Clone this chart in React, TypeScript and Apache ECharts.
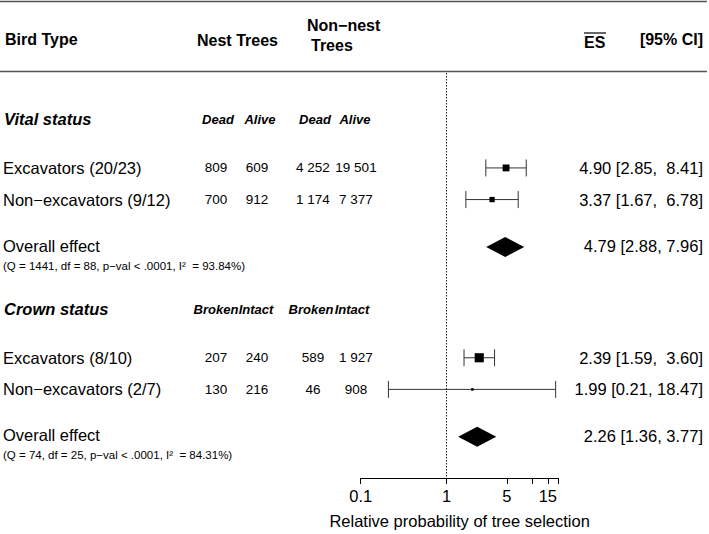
import { useEffect, useRef } from "react";
import * as echarts from "echarts";

// ---------- data ----------
const groupTitles = ["Vital status", "Crown status"];
const groupSubHeaders = [
  ["Dead", "Alive", "Dead", "Alive"],
  ["Broken", "Intact", "Broken", "Intact"],
];
const studyLabels = [
  "Excavators (20/23)",
  "Non\u2212excavators (9/12)",
  "Excavators (8/10)",
  "Non\u2212excavators (2/7)",
];
const nestTreesA = [809, 700, 207, 130];
const nestTreesB = [609, 912, 240, 216];
const nonNestTreesA = [4252, 1174, 589, 46];
const nonNestTreesB = [19501, 7377, 1927, 908];
const studyES = [4.9, 3.37, 2.39, 1.99];
const studyLower = [2.85, 1.67, 1.59, 0.21];
const studyUpper = [8.41, 6.78, 3.6, 18.47];
const overallLabel = "Overall effect";
const overallES = [4.79, 2.26];
const overallLower = [2.88, 1.36];
const overallUpper = [7.96, 3.77];
const hetQ = [1441, 74];
const hetDf = [88, 25];
const hetP = [".0001", ".0001"];
const hetI2 = [93.84, 84.31];
const axisTickValues = [0.1, 1, 5, 10, 15, 20];
const axisLabelValues = [0.1, 1, 5, 15];
const axisTitle = "Relative probability of tree selection";
const headerBirdType = "Bird Type";
const headerNest = "Nest Trees";
const headerNonNest = ["Non\u2212nest", "Trees"];
const headerES = "ES";
const headerCI = "[95% CI]";

// ---------- layout (row slots) ----------
const groupRow = [-3, 9];
const studyRow = [0, 2, 12, 14];
const overallRow = [5, 17];

const FONT = '"Liberation Sans", Arial, Helvetica, sans-serif';
const log10 = (v: number) => Math.log10(v);
const fmt2 = (v: number) => v.toFixed(2);
const fmtCount = (n: number) => String(n).replace(/\B(?=(\d{3})+(?!\d))/g, " ");
const upperWidth = Math.max(...studyUpper.map((v) => fmt2(v).length));

type TextItem = {
  row: number;
  dy: number;
  x: number;
  text: string;
  align: string;
  size: number;
  bold?: boolean;
  italic?: boolean;
};

function buildTextItems(): TextItem[] {
  const items: TextItem[] = [];
  const labelX = 3;
  const countCentersHead = [
    [218, 260, 315, 355],
    [216, 256, 311, 352],
  ];
  const countCenters = [216, 257, 313, 356];
  const ciRight = 703;
  groupTitles.forEach((g, gi) => {
    items.push({ row: groupRow[gi], dy: -1.5, x: labelX + 1, text: g, align: "left", size: 16.5, bold: true, italic: true });
    groupSubHeaders[gi].forEach((h, hi) => {
      items.push({ row: groupRow[gi], dy: -1, x: countCentersHead[gi][hi], text: h, align: "center", size: 13, bold: true, italic: true });
    });
  });
  studyLabels.forEach((lab, i) => {
    const r = studyRow[i];
    items.push({ row: r, dy: 0, x: labelX, text: lab, align: "left", size: 16.5 });
    [nestTreesA[i], nestTreesB[i], nonNestTreesA[i], nonNestTreesB[i]].forEach((n, k) => {
      items.push({ row: r, dy: 0, x: countCenters[k], text: fmtCount(n), align: "center", size: 13.5 });
    });
    const txt = `${fmt2(studyES[i])} [${fmt2(studyLower[i])}, ${fmt2(studyUpper[i]).padStart(upperWidth, " ")}]`;
    items.push({ row: r, dy: 0, x: ciRight, text: txt, align: "right", size: 16.5 });
  });
  overallES.forEach((es, gi) => {
    const r = overallRow[gi];
    items.push({ row: r, dy: -1.5, x: labelX, text: overallLabel, align: "left", size: 16.5 });
    items.push({
      row: r,
      dy: 18.5,
      x: labelX,
      text: `(Q = ${hetQ[gi]}, df = ${hetDf[gi]}, p\u2212val < ${hetP[gi]}, I\u00B2  = ${hetI2[gi].toFixed(2)}%)`,
      align: "left",
      size: 11.5,
    });
    items.push({ row: r, dy: -1, x: ciRight, text: `${fmt2(es)} [${fmt2(overallLower[gi])}, ${fmt2(overallUpper[gi])}]`, align: "right", size: 16.5 });
  });
  return items;
}

function textStyle(text: string, x: number, y: number, size: number, align: string, bold = false, italic = false) {
  return {
    text,
    x,
    y,
    fill: "#000",
    fontSize: size,
    fontWeight: bold ? "bold" : "normal",
    fontStyle: italic ? "italic" : "normal",
    fontFamily: FONT,
    align,
    verticalAlign: "middle",
    textAlign: align,
    textVerticalAlign: "middle",
  };
}

export default function App() {
  const ref = useRef<HTMLDivElement>(null);
  useEffect(() => {
    if (!ref.current) return;
    const chart = echarts.init(ref.current, null, { renderer: "svg" });
    const textItems = buildTextItems();

    // marker size derived from precision of each estimate
    const markerSize = studyES.map((_, i) => {
      const se = (Math.log(studyUpper[i]) - Math.log(studyLower[i])) / (2 * 1.96);
      return Math.max(2.5, 1.9 / se);
    });

    const capHalf = 8.5;
    const diamondHalf = 10;

    const option: any = {
      animation: false,
      backgroundColor: "#fff",
      grid: { left: 360.7, right: 150.4, top: 73, bottom: 52.3, containLabel: false },
      xAxis: {
        type: "value",
        min: -1,
        max: log10(20),
        splitLine: { show: false },
        axisLine: { show: true, onZero: false, lineStyle: { color: "#000", width: 1 } },
        axisTick: {
          show: true,
          customValues: axisTickValues.map(log10),
          length: 6,
          lineStyle: { color: "#000", width: 1 },
        },
        axisLabel: {
          customValues: axisLabelValues.map(log10),
          formatter: (v: number) => String(+Math.pow(10, v).toPrecision(2)),
          fontSize: 16.5,
          color: "#000",
          fontFamily: FONT,
          margin: 9,
        },
        name: axisTitle,
        nameLocation: "middle",
        nameGap: 34,
        nameTextStyle: { fontSize: 16.5, color: "#000", fontFamily: FONT },
      },
      yAxis: { type: "value", inverse: true, min: -6, max: 19.6, show: false },
      graphic: [
        { type: "line", shape: { x1: 0, y1: 1.5, x2: 707, y2: 1.5 }, style: { stroke: "#555", lineWidth: 1.5 } },
        { type: "line", shape: { x1: 0, y1: 71.5, x2: 707, y2: 71.5 }, style: { stroke: "#555", lineWidth: 1.5 } },
        { type: "text", style: textStyle(headerBirdType, 5, 39, 16, "left", true) },
        { type: "text", style: textStyle(headerNest, 197, 40, 16, "left", true) },
        { type: "text", style: textStyle(headerNonNest[0], 307, 25, 16, "left", true) },
        { type: "text", style: textStyle(headerNonNest[1], 311, 45, 16, "left", true) },
        { type: "text", style: textStyle(headerES, 584, 42, 16, "left", true) },
        { type: "line", shape: { x1: 584, y1: 33, x2: 606, y2: 33 }, style: { stroke: "#000", lineWidth: 1.2 } },
        { type: "text", style: textStyle(headerCI, 703, 39, 16, "right", true) },
      ],
      series: [
        {
          type: "custom",
          name: "studies",
          silent: true,
          clip: false,
          encode: { x: [0, 1, 2], y: 3 },
          data: studyES.map((e, i) => [log10(e), log10(studyLower[i]), log10(studyUpper[i]), studyRow[i]]),
          renderItem: (params: any, api: any) => {
            const row = api.value(3);
            const [xe, y] = api.coord([api.value(0), row]);
            const xl = api.coord([api.value(1), row])[0];
            const xh = api.coord([api.value(2), row])[0];
            const s = markerSize[params.dataIndex];
            const ls = { stroke: "#333", lineWidth: 1 };
            return {
              type: "group",
              children: [
                { type: "line", shape: { x1: xl, y1: y, x2: xh, y2: y }, style: ls },
                { type: "line", shape: { x1: xl, y1: y - capHalf, x2: xl, y2: y + capHalf }, style: ls },
                { type: "line", shape: { x1: xh, y1: y - capHalf, x2: xh, y2: y + capHalf }, style: ls },
                { type: "rect", shape: { x: xe - s / 2, y: y - s / 2, width: s, height: s }, style: { fill: "#000" } },
              ],
            };
          },
          markLine: {
            silent: true,
            symbol: ["none", "none"],
            label: { show: false },
            lineStyle: { type: [1.5, 1.5], color: "#222", width: 1 },
            data: [{ xAxis: 0 }],
          },
        },
        {
          type: "custom",
          name: "overall",
          silent: true,
          clip: false,
          encode: { x: [0, 1, 2], y: 3 },
          data: overallES.map((e, i) => [log10(e), log10(overallLower[i]), log10(overallUpper[i]), overallRow[i]]),
          renderItem: (params: any, api: any) => {
            const row = api.value(3);
            const [xe, y] = api.coord([api.value(0), row]);
            const xl = api.coord([api.value(1), row])[0];
            const xh = api.coord([api.value(2), row])[0];
            return {
              type: "polygon",
              shape: { points: [[xl, y], [xe, y - diamondHalf], [xh, y], [xe, y + diamondHalf]] },
              style: { fill: "#000" },
            };
          },
        },
        {
          type: "custom",
          name: "texts",
          silent: true,
          clip: false,
          encode: { x: 0, y: 1 },
          data: textItems.map((t) => [0, t.row]),
          renderItem: (params: any, api: any) => {
            const t = textItems[params.dataIndex];
            const y = api.coord([0, t.row])[1] + t.dy;
            return { type: "text", style: textStyle(t.text, t.x, y, t.size, t.align, !!t.bold, !!t.italic) };
          },
        },
      ],
    };
    chart.setOption(option);
    return () => chart.dispose();
  }, []);
  return (
    <div
      ref={ref}
      style={{ position: "fixed", left: 0, top: 0, width: 709, height: 534, background: "#fff" }}
    />
  );
}
